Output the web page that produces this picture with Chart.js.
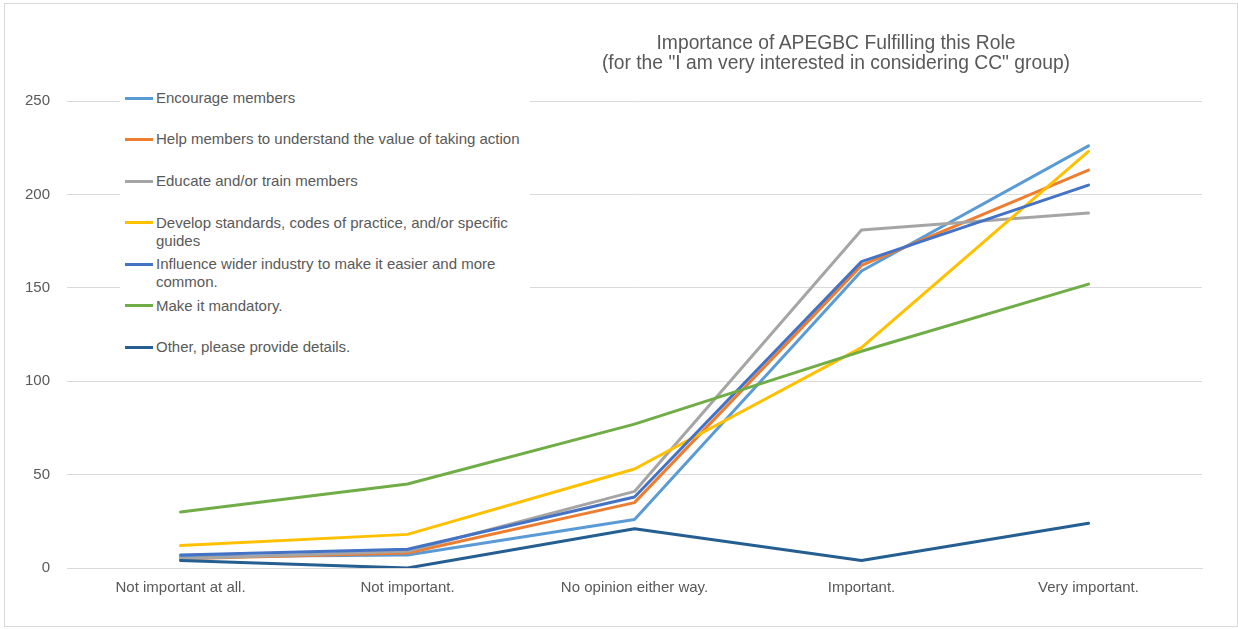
<!DOCTYPE html>
<html><head><meta charset="utf-8">
<script src="https://cdn.jsdelivr.net/npm/chart.js@4/dist/chart.umd.min.js"></script>
<style>
html,body{margin:0;padding:0;background:#fff;}
#wrap{position:relative;width:1238px;height:629px;overflow:hidden;}
#c{position:absolute;left:0;top:0;}
#frame{position:absolute;left:4px;top:3px;width:1234px;height:624px;box-sizing:border-box;border:1px solid #d9d9d9;pointer-events:none;}
#title{position:absolute;left:536px;width:600px;top:33px;text-align:center;font:19.3px 'Liberation Sans',Arial,sans-serif;color:#595959;line-height:20px;}
#legend{position:absolute;left:120px;top:77px;width:410px;background:#fff;font:15px 'Liberation Sans',Arial,sans-serif;color:#595959;}
.item{height:41.6px;position:relative;}
.sw{position:absolute;left:5px;top:19.5px;width:28px;height:3px;}
.tx{position:absolute;left:36px;top:11.8px;width:372px;line-height:18px;}
</style>
</head><body>
<div id="wrap">
<canvas id="c" width="1238" height="629"></canvas>
<div id="title">Importance of APEGBC Fulfilling this Role<br>(for the "I am very interested in considering CC" group)</div>
<div id="legend"></div>
<div id="frame"></div>
</div>
<script>
const categories = ["Not important at all.", "Not important.", "No opinion either way.", "Important.", "Very important."];
const seriesNames = [
  "Encourage members",
  "Help members to understand the value of taking action",
  "Educate and/or train members",
  "Develop standards, codes of practice, and/or specific guides",
  "Influence wider industry to make it easier and more common.",
  "Make it mandatory.",
  "Other, please provide details."
];
const encourage  = [6, 7, 26, 159, 226];
const helpMembers = [5, 8, 35, 162, 213];
const educate    = [5, 9, 41, 181, 190];
const develop    = [12, 18, 53, 118, 223];
const influence  = [7, 10, 38, 164, 205];
const mandatory  = [30, 45, 77, 116, 152];
const other      = [4, 0, 21, 4, 24];
const yTicks = [0, 50, 100, 150, 200, 250];
const colors = ["#5B9BD5", "#ED7D31", "#A5A5A5", "#FFC000", "#4472C4", "#70AD47", "#255E91"];

const seriesValues = [encourage, helpMembers, educate, develop, influence, mandatory, other];

const datasets = seriesValues.map((vals, i) => ({
  label: seriesNames[i],
  data: vals,
  borderColor: colors[i],
  backgroundColor: colors[i],
  borderWidth: 3,
  pointRadius: 0,
  pointHoverRadius: 0,
  tension: 0,
  fill: false,
  borderCapStyle: 'round',
  borderJoinStyle: 'round',
  order: -i
}));

// HTML legend
const lg = document.getElementById('legend');
seriesNames.forEach((n, i) => {
  const d = document.createElement('div'); d.className = 'item';
  const s = document.createElement('div'); s.className = 'sw'; s.style.background = colors[i];
  const t = document.createElement('div'); t.className = 'tx'; t.textContent = n;
  d.appendChild(s); d.appendChild(t); lg.appendChild(d);
});

const font = {family: "'Liberation Sans', Arial, sans-serif", size: 15};
new Chart(document.getElementById('c'), {
  type: 'line',
  data: {labels: categories, datasets},
  options: {
    responsive: false,
    animation: false,
    layout: {padding: {top: 101, left: 8, right: 36, bottom: 21}},
    plugins: {legend: {display: false}, title: {display: false}, tooltip: {enabled: false}},
    scales: {
      x: {
        offset: true,
        grid: {display: false, drawTicks: false},
        border: {display: true, color: '#d9d9d9', width: 1},
        ticks: {color: '#595959', font, padding: 11, maxRotation: 0}
      },
      y: {
        min: yTicks[0], max: yTicks[yTicks.length - 1],
        afterBuildTicks: (ax) => { ax.ticks = yTicks.map(v => ({value: v})); },
        grid: {color: '#d9d9d9', drawTicks: false},
        border: {display: false},
        ticks: {color: '#595959', font, padding: 17}
      }
    }
  }
});
</script>
</body></html>
